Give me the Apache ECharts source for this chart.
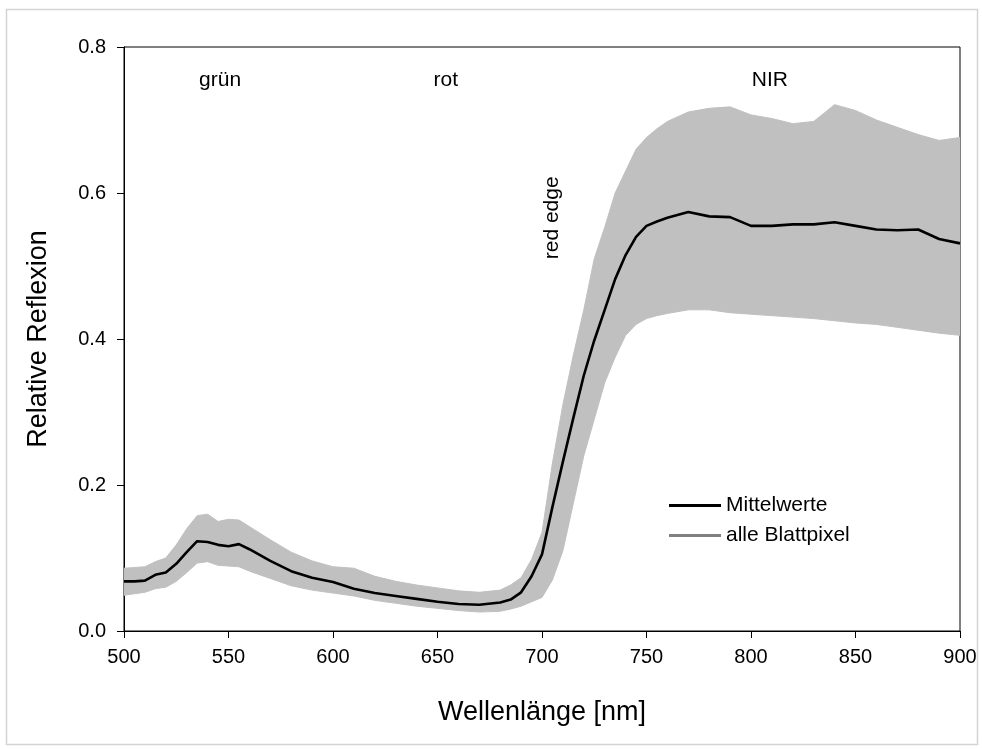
<!DOCTYPE html>
<html>
<head>
<meta charset="utf-8">
<script src="https://cdn.jsdelivr.net/npm/echarts@6/dist/echarts.min.js"></script>
<style>
html,body{margin:0;padding:0;background:#fff;}
#main{width:982px;height:749px;}
</style>
</head>
<body>
<div id="main"></div>
<script>
// Wavelengths (nm)
var wavelengths = [500,505,510,515,520,525,530,535,540,545,550,555,560,570,580,590,600,610,620,630,640,650,660,670,680,685,690,695,700,705,710,715,720,725,730,735,740,745,750,755,760,770,780,790,800,810,820,830,840,850,860,870,880,890,900];
// Mean reflectance (Mittelwerte)
var meanValues = [0.068,0.068,0.069,0.077,0.080,0.092,0.108,0.123,0.122,0.118,0.116,0.119,0.112,0.096,0.082,0.073,0.067,0.058,0.052,0.048,0.044,0.040,0.037,0.036,0.039,0.043,0.053,0.075,0.105,0.170,0.232,0.292,0.350,0.398,0.440,0.482,0.515,0.540,0.555,0.561,0.566,0.574,0.568,0.567,0.555,0.555,0.557,0.557,0.560,0.555,0.550,0.549,0.550,0.537,0.531];
// Upper envelope of all leaf pixels
var upperValues = [0.086,0.087,0.088,0.095,0.100,0.118,0.140,0.158,0.160,0.150,0.153,0.152,0.143,0.125,0.108,0.096,0.088,0.086,0.075,0.068,0.063,0.059,0.055,0.053,0.056,0.063,0.073,0.098,0.135,0.230,0.310,0.378,0.440,0.510,0.553,0.600,0.630,0.660,0.676,0.688,0.698,0.711,0.716,0.718,0.707,0.702,0.695,0.698,0.721,0.713,0.700,0.690,0.680,0.672,0.676];
// Lower envelope of all leaf pixels
var lowerValues = [0.049,0.051,0.053,0.058,0.060,0.068,0.080,0.093,0.095,0.090,0.089,0.088,0.082,0.072,0.062,0.056,0.052,0.048,0.042,0.038,0.034,0.031,0.028,0.026,0.027,0.030,0.034,0.040,0.046,0.070,0.110,0.175,0.240,0.290,0.340,0.375,0.405,0.420,0.428,0.432,0.435,0.440,0.440,0.436,0.434,0.432,0.430,0.428,0.425,0.422,0.420,0.416,0.412,0.408,0.405];
// Tick labels
var xTicks = [500,550,600,650,700,750,800,850,900];
var yTicks = ['0.0','0.2','0.4','0.6','0.8'];
// Annotations: text, wavelength, reflectance, rotation
var annotTexts = ['grün','rot','NIR','red edge'];
var annotX = [546, 654, 809, 705];
var annotY = [0.755, 0.755, 0.755, 0.566];
var annotRot = [0, 0, 0, 90];
var seriesNames = ['Mittelwerte','alle Blattpixel'];

var FONT = '"Liberation Sans", Arial, sans-serif';
var chart = echarts.init(document.getElementById('main'));

function pairs(xs, ys){ return xs.map(function(x,i){ return [x, ys[i]]; }); }
var bandData = wavelengths.map(function(w,i){ return [w, lowerValues[i], upperValues[i]]; });

function renderBand(params, api){
  if (params.dataIndex !== 0) return;
  var pts = [];
  for (var i = 0; i < wavelengths.length; i++) pts.push(api.coord([wavelengths[i], upperValues[i]]));
  for (var j = wavelengths.length - 1; j >= 0; j--) pts.push(api.coord([wavelengths[j], lowerValues[j]]));
  return {
    type: 'polygon', silent: true,
    shape: { points: pts, smooth: 0 },
    style: { fill: '#c0c0c0', stroke: '#c0c0c0', lineWidth: 1 }
  };
}

var option = {
  animation: false,
  backgroundColor: '#fff',
  grid: { left: 124, right: 22, top: 47, bottom: 118, show: true, borderColor: '#000', borderWidth: 1, backgroundColor: 'transparent' },
  legend: {
    orient: 'vertical', left: 664, top: 490,
    icon: 'rect', itemWidth: 52, itemHeight: 3, itemGap: 9,
    textStyle: { fontFamily: FONT, fontSize: 21, color: '#000' },
    data: [
      { name: seriesNames[0], itemStyle: { color: '#000' } },
      { name: seriesNames[1], itemStyle: { color: '#808080' } }
    ]
  },
  xAxis: {
    type: 'value', min: 500, max: 900, interval: 50,
    name: 'Wellenlänge [nm]', nameLocation: 'middle', nameGap: 68,
    nameTextStyle: { fontFamily: FONT, fontSize: 27, color: '#000' },
    axisLine: { show: true, onZero: false, lineStyle: { color: '#000', width: 1 } },
    axisTick: { show: true, inside: false, length: 7, lineStyle: { color: '#000' } },
    axisLabel: { fontFamily: FONT, fontSize: 20, color: '#000', margin: 16,
      formatter: function(v){ return xTicks.indexOf(v) >= 0 ? String(v) : ''; } },
    splitLine: { show: false }
  },
  yAxis: {
    type: 'value', min: 0, max: 0.8, interval: 0.2,
    name: 'Relative Reflexion', nameLocation: 'middle', nameGap: 72,
    nameTextStyle: { fontFamily: FONT, fontSize: 27, color: '#000' },
    axisLine: { show: true, lineStyle: { color: '#000', width: 1 } },
    axisTick: { show: true, inside: false, length: 7, lineStyle: { color: '#000' } },
    axisLabel: { fontFamily: FONT, fontSize: 20, color: '#000', margin: 18,
      formatter: function(v){ return yTicks[Math.round(v/0.2)]; } },
    splitLine: { show: false }
  },
  series: [
    {
      name: seriesNames[1], type: 'custom', renderItem: renderBand,
      data: bandData, encode: { x: 0, y: [1, 2] },
      itemStyle: { color: '#808080' }, clip: true, z: 2
    },
    {
      name: seriesNames[0], type: 'line', symbol: 'none',
      data: pairs(wavelengths, meanValues),
      lineStyle: { color: '#000', width: 2.6 }, itemStyle: { color: '#000' }, z: 3
    }
  ]
};
chart.setOption(option);

var gfx = [{
  type: 'rect', silent: true, z: 0,
  shape: { x: 6.5, y: 9.5, width: 971, height: 735 },
  style: { fill: 'none', stroke: '#d4d4d4', lineWidth: 1.5 }
}];
annotTexts.forEach(function(t, i){
  var p = chart.convertToPixel({ gridIndex: 0 }, [annotX[i], annotY[i]]);
  gfx.push({
    type: 'text', x: p[0], y: p[1], rotation: annotRot[i] * Math.PI / 180, z: 10,
    style: { text: t, fontFamily: FONT, fontSize: 21, fill: '#000', align: 'center', verticalAlign: 'middle' }
  });
});
chart.setOption({ graphic: gfx });
</script>
</body>
</html>
